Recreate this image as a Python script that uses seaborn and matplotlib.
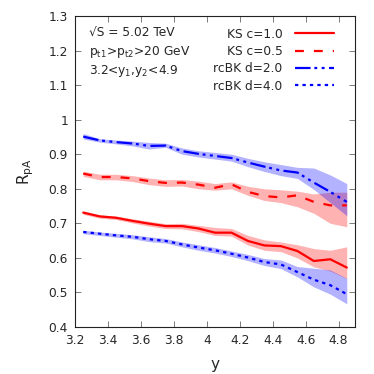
import numpy as np
import pandas as pd
import matplotlib
matplotlib.use("Agg")
import matplotlib.pyplot as plt
import seaborn as sns

# rapidity bins
rap = [3.25, 3.35, 3.45, 3.55, 3.65, 3.75, 3.85, 3.95, 4.05,
       4.15, 4.25, 4.35, 4.45, 4.55, 4.65, 4.75, 4.85]

# KS c=1.0
ks10 = [0.731, 0.720, 0.716, 0.707, 0.699, 0.692, 0.692, 0.685, 0.673,
        0.673, 0.649, 0.636, 0.634, 0.620, 0.591, 0.596, 0.572]
ks10_lo = [0.726, 0.715, 0.711, 0.701, 0.692, 0.685, 0.684, 0.676, 0.665,
           0.663, 0.637, 0.622, 0.618, 0.600, 0.574, 0.562, 0.540]
ks10_hi = [0.736, 0.725, 0.721, 0.713, 0.706, 0.699, 0.700, 0.694, 0.688,
           0.685, 0.665, 0.652, 0.646, 0.638, 0.627, 0.622, 0.632]

# KS c=0.5
ks05 = [0.844, 0.834, 0.834, 0.830, 0.822, 0.817, 0.818, 0.812, 0.803,
        0.813, 0.791, 0.779, 0.775, 0.781, 0.762, 0.752, 0.752]
ks05_lo = [0.836, 0.826, 0.826, 0.821, 0.812, 0.807, 0.808, 0.800, 0.796,
           0.800, 0.781, 0.766, 0.760, 0.748, 0.729, 0.700, 0.690]
ks05_hi = [0.851, 0.842, 0.842, 0.838, 0.831, 0.826, 0.827, 0.822, 0.815,
           0.820, 0.807, 0.800, 0.797, 0.793, 0.785, 0.790, 0.790]

# rcBK d=2.0
bk20 = [0.951, 0.940, 0.935, 0.931, 0.924, 0.925, 0.909, 0.901, 0.895,
        0.889, 0.876, 0.864, 0.853, 0.847, 0.818, 0.791, 0.762]
bk20_lo = [0.944, 0.935, 0.930, 0.924, 0.915, 0.920, 0.900, 0.892, 0.886,
           0.880, 0.864, 0.850, 0.838, 0.830, 0.798, 0.760, 0.722]
bk20_hi = [0.960, 0.945, 0.941, 0.938, 0.934, 0.932, 0.918, 0.910, 0.905,
           0.900, 0.888, 0.878, 0.870, 0.862, 0.860, 0.840, 0.815]

# rcBK d=4.0
bk40 = [0.675, 0.670, 0.665, 0.661, 0.654, 0.649, 0.639, 0.630, 0.622,
        0.612, 0.601, 0.588, 0.581, 0.559, 0.537, 0.521, 0.495]
bk40_lo = [0.670, 0.665, 0.660, 0.655, 0.647, 0.643, 0.632, 0.622, 0.614,
           0.604, 0.592, 0.578, 0.569, 0.545, 0.516, 0.495, 0.467]
bk40_hi = [0.680, 0.675, 0.671, 0.667, 0.661, 0.656, 0.646, 0.638, 0.630,
           0.620, 0.610, 0.598, 0.594, 0.575, 0.570, 0.565, 0.541]

sns.set_style("ticks")
plt.rcParams["font.family"] = ["DejaVu Sans"]
plt.rcParams["mathtext.default"] = "regular"

fig = plt.figure(figsize=(3.74, 3.74), dpi=100)
ax = fig.add_axes([0.2005, 0.1257, 0.7487, 0.8315])

series = [
    ("KS c=1.0", ks10, ks10_lo, ks10_hi, "#ff0000", "-"),
    ("KS c=0.5", ks05, ks05_lo, ks05_hi, "#ff0000", (0, (4, 4.5))),
    ("rcBK d=2.0", bk20, bk20_lo, bk20_hi, "#0000ff", (0, (7, 1.7, 1.3, 2, 1.3, 2))),
    ("rcBK d=4.0", bk40, bk40_lo, bk40_hi, "#0000ff", (0, (1.5, 1.85))),
]

# bands first
for name, mid, lo, hi, col, ls in series:
    ax.fill_between(rap, lo, hi, color=col, alpha=0.3, linewidth=0)

for name, mid, lo, hi, col, ls in series:
    df = pd.DataFrame({"y": rap, "R": mid})
    sns.lineplot(data=df, x="y", y="R", ax=ax, color=col, linestyle=ls,
                 linewidth=1.6, label=name, legend=False)

ax.set_xlim(3.2, 4.9)
ax.set_ylim(0.4, 1.3)
ax.set_xticks(np.arange(3.2, 4.81, 0.2))
ax.set_xticklabels(["3.2", "3.4", "3.6", "3.8", "4", "4.2", "4.4", "4.6", "4.8"])
ax.set_yticks(np.arange(0.4, 1.31, 0.1))
ax.set_yticklabels(["0.4", "0.5", "0.6", "0.7", "0.8", "0.9", "1", "1.1", "1.2", "1.3"])
ax.tick_params(direction="in", length=4, width=0.6, color="#666666",
               labelsize=8.8, top=True, right=True, pad=5)
for sp in ax.spines.values():
    sp.set_color("#222222")
    sp.set_linewidth(0.8)

ax.set_xlabel("y", fontsize=11, labelpad=7)
ax.set_ylabel("R$_{pA}$", fontsize=11, labelpad=9)

ax.text(0.05, 0.945, "\u221aS = 5.02 TeV", transform=ax.transAxes,
        fontsize=8.8, va="center", ha="left")
ax.text(0.05, 0.884, "p$_{t1}$>p$_{t2}$>20 GeV", transform=ax.transAxes,
        fontsize=8.8, va="center", ha="left")
ax.text(0.05, 0.823, "3.2<y$_1$,y$_2$<4.9", transform=ax.transAxes,
        fontsize=8.8, va="center", ha="left")

handles, labels = ax.get_legend_handles_labels()
ax.legend(handles, labels, loc="upper right", bbox_to_anchor=(0.955, 0.99),
          frameon=False, markerfirst=False, fontsize=8.8, handlelength=3.2,
          handletextpad=1.0, labelspacing=0.35, borderpad=0.2)

fig.savefig("out.png", dpi=100)
